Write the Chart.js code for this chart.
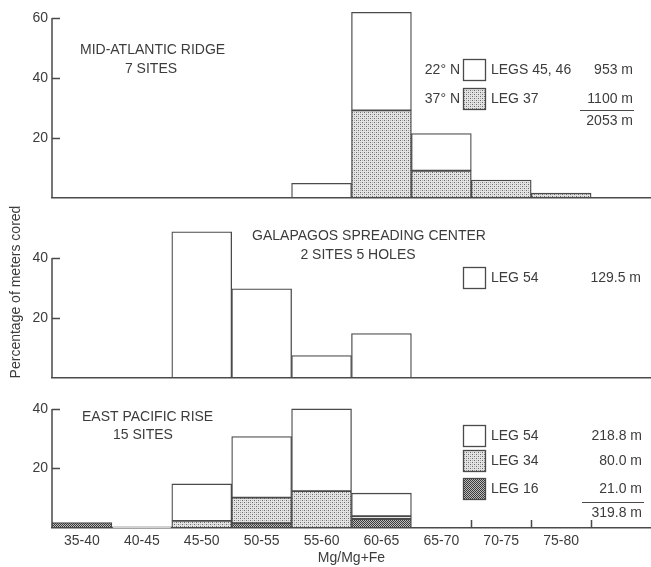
<!DOCTYPE html>
<html><head><meta charset="utf-8">
<script src="https://cdn.jsdelivr.net/npm/chart.js@4.4.1/dist/chart.umd.min.js"></script>
<style>
html,body{margin:0;padding:0;background:#fff;width:651px;height:567px;overflow:hidden}
canvas{position:absolute;left:0}
</style></head><body>
<canvas id="c1" width="651" height="200" style="top:0px"></canvas>
<canvas id="c2" width="651" height="180" style="top:200px"></canvas>
<canvas id="c3" width="651" height="177" style="top:390px"></canvas>
<script>
// ---- data ----
const categories = ['35-40','40-45','45-50','50-55','55-60','60-65','65-70','70-75','75-80',''];
const xTitle = 'Mg/Mg+Fe';
const yTitle = 'Percentage of meters cored';

// Mid-Atlantic Ridge
const marLeg37   = [null,null,null,null,null,29.2,9.1,6.0,1.6,null];
const marLeg4546 = [null,null,null,null,4.9,32.7,12.4,null,null,null];
const marTicks   = [20,40,60];

// Galapagos Spreading Center
const gscLeg54 = [null,null,48.7,29.7,7.5,14.8,null,null,null,null];
const gscTicks = [20,40];

// East Pacific Rise
const eprLeg16 = [1.8,null,null,1.6,null,3.0,null,null,null,null];
const eprLeg34 = [null,null,2.4,8.6,12.4,1.0,null,null,null,null];
const eprLeg54 = [null,0.4,12.4,20.5,27.6,7.7,null,null,null,null];
const eprTicks = [20,40];

// ---- styles ----
const INK = '#3c3c3c';
const LINE = '#4a4a4a';
const FONT = '"Liberation Sans", Arial, sans-serif';

function makePattern(bg, dots, size){
  const c = document.createElement('canvas');
  c.width = size; c.height = size;
  const g = c.getContext('2d');
  g.fillStyle = bg; g.fillRect(0,0,size,size);
  dots.forEach(([px,py,col])=>{ g.fillStyle = col; g.fillRect(px,py,1,1); });
  return g.createPattern(c,'repeat');
}
const LIGHT = makePattern('#e4e4e4',[[0,0,'#6a6a6a'],[2,2,'#6a6a6a'],[2,0,'#b0b0b0'],[0,2,'#b0b0b0']],4);
const DARK  = makePattern('#bdbdbd',[[0,0,'#3a3a3a'],[2,0,'#3a3a3a'],[1,1,'#3a3a3a'],[3,1,'#3a3a3a'],
                                      [0,2,'#3a3a3a'],[2,2,'#3a3a3a'],[1,3,'#3a3a3a'],[3,3,'#3a3a3a']],4);
const WHITE = '#ffffff';

const decor = {
  id: 'decor',
  beforeDatasetsDraw(chart, args, o){
    const {ctx, chartArea:a, scales:{x,y}} = chart;
    ctx.save();
    ctx.strokeStyle = LINE; ctx.lineWidth = 1.5;
    ctx.beginPath();
    const top = y.getPixelForValue(o.yTicks[o.yTicks.length-1]);
    ctx.moveTo(a.left, top); ctx.lineTo(a.left, a.bottom);
    o.yTicks.forEach(v=>{const py = Math.round(y.getPixelForValue(v))+0.5; ctx.moveTo(a.left, py); ctx.lineTo(a.left+8, py);});
    (o.xTicks||[]).forEach(i=>{
      const px = Math.round((x.getPixelForValue(i-1)+x.getPixelForValue(i))/2)+0.5;
      ctx.moveTo(px, a.bottom); ctx.lineTo(px, a.bottom-8);
    });
    ctx.stroke();
    ctx.restore();
  },
  afterDraw(chart, args, o){
    const ctx = chart.ctx;
    ctx.save();
    ctx.fillStyle = INK;
    ctx.textBaseline = 'middle';
    (o.texts||[]).forEach(t=>{
      ctx.font = (t.size||14)+'px '+FONT;
      ctx.textAlign = t.align||'left';
      if (t.rot){
        ctx.save(); ctx.translate(t.x,t.y); ctx.rotate(t.rot); ctx.fillText(t.t,0,0); ctx.restore();
      } else ctx.fillText(t.t, t.x, t.y);
    });
    (o.boxes||[]).forEach(b=>{
      ctx.fillStyle = b.fill; ctx.fillRect(b.x,b.y,b.w,b.h);
      ctx.strokeStyle = LINE; ctx.lineWidth = 1.3; ctx.strokeRect(b.x+0.5,b.y+0.5,b.w,b.h);
    });
    (o.rules||[]).forEach(r=>{
      ctx.strokeStyle = LINE; ctx.lineWidth = 1.2;
      ctx.beginPath(); ctx.moveTo(r.x1,r.y+0.5); ctx.lineTo(r.x2,r.y+0.5); ctx.stroke();
    });
    ctx.restore();
  }
};

function ds(label, data, fill){
  return {label, data, backgroundColor: fill, borderColor: LINE, borderWidth: 1.3,
          borderSkipped: false, barPercentage: 1, categoryPercentage: 1};
}

function makeChart(id, datasets, yMax, yTicks, padTop, xHeight, isBottom, decorOpts){
  return new Chart(document.getElementById(id), {
    type: 'bar',
    data: {labels: categories, datasets},
    plugins: [decor],
    options: {
      responsive: false, animation: false, devicePixelRatio: 1,
      layout: {padding: {top: padTop, left: 0, right: 0, bottom: 0}},
      plugins: {legend: {display: false}, tooltip: {enabled: false}, decor: decorOpts},
      scales: {
        x: {
          stacked: true, offset: true,
          grid: {display: false, drawTicks: false},
          border: {display: true, color: LINE, width: 1.5},
          ticks: {display: isBottom, color: INK, font: {size: 14, family: FONT}, padding: 5, maxRotation: 0, autoSkip: false},
          title: {display: isBottom, text: xTitle, color: INK, font: {size: 14, family: FONT}, padding: 0},
          afterFit: s => { s.height = xHeight; s.paddingLeft = 0; s.paddingRight = 0; }
        },
        y: {
          stacked: true, min: 0, max: yMax,
          grid: {display: false, drawTicks: false},
          border: {display: false},
          ticks: {color: INK, font: {size: 14, family: FONT}, padding: 4},
          afterBuildTicks: s => { s.ticks = yTicks.map(v => ({value: v})); },
          afterFit: s => { s.width = 52; s.paddingTop = 0; s.paddingBottom = 0; }
        }
      }
    }
  });
}

makeChart('c1', [ds('LEG 37', marLeg37, LIGHT), ds('LEGS 45, 46', marLeg4546, WHITE)],
  63, marTicks, 9, 2, false, {
    yTicks: marTicks,
    texts: [
      {t:'MID-ATLANTIC RIDGE', x:80, y:50},
      {t:'7 SITES', x:151, y:69, align:'center'},
      {t:'22° N', x:460, y:70, align:'right'},
      {t:'LEGS 45, 46', x:491, y:70},
      {t:'953 m', x:633, y:70, align:'right'},
      {t:'37° N', x:460, y:99, align:'right'},
      {t:'LEG 37', x:491, y:99},
      {t:'1100 m', x:633, y:99, align:'right'},
      {t:'2053 m', x:633, y:121, align:'right'}
    ],
    boxes: [
      {x:463, y:59, w:22, h:21, fill:WHITE},
      {x:463, y:88, w:22, h:21, fill:LIGHT}
    ],
    rules: [{x1:580, x2:634, y:110}]
  });

makeChart('c2', [ds('LEG 54', gscLeg54, WHITE)],
  50, gscTicks, 28, 2, false, {
    yTicks: gscTicks,
    texts: [
      {t:'GALAPAGOS SPREADING CENTER', x:369, y:36, align:'center'},
      {t:'2 SITES 5 HOLES', x:358, y:55, align:'center'},
      {t:'LEG 54', x:491, y:78},
      {t:'129.5 m', x:641, y:78, align:'right'},
      {t:yTitle, x:16, y:92, align:'center', rot:-Math.PI/2}
    ],
    boxes: [{x:463, y:67, w:22, h:21, fill:WHITE}]
  });

makeChart('c3', [ds('LEG 16', eprLeg16, DARK), ds('LEG 34', eprLeg34, LIGHT), ds('LEG 54', eprLeg54, WHITE)],
  42, eprTicks, 13, 39, true, {
    yTicks: eprTicks,
    xTicks: [7, 8, 9],
    texts: [
      {t:'EAST PACIFIC RISE', x:82, y:27},
      {t:'15 SITES', x:143, y:45, align:'center'},
      {t:'LEG 54', x:491, y:46},
      {t:'218.8 m', x:642, y:46, align:'right'},
      {t:'LEG 34', x:491, y:71},
      {t:'80.0 m', x:642, y:71, align:'right'},
      {t:'LEG 16', x:491, y:99},
      {t:'21.0 m', x:642, y:99, align:'right'},
      {t:'319.8 m', x:642, y:123, align:'right'}
    ],
    boxes: [
      {x:463, y:35, w:22, h:21, fill:WHITE},
      {x:463, y:60, w:22, h:21, fill:LIGHT},
      {x:463, y:88, w:22, h:21, fill:DARK}
    ],
    rules: [{x1:582, x2:644, y:112}]
  });
</script>
</body></html>
